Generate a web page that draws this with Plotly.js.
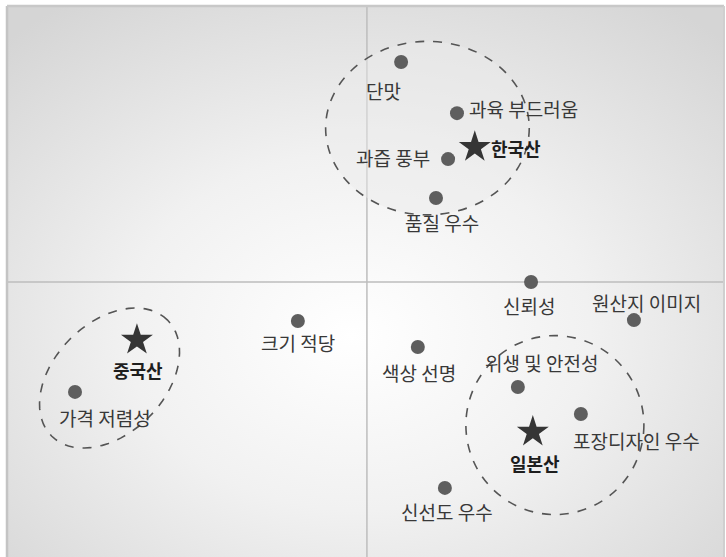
<!DOCTYPE html>
<html>
<head>
<meta charset="utf-8">
<script src="https://cdn.plot.ly/plotly-3.0.1.min.js"></script>
<style>html,body{margin:0;padding:0;background:#fff;}#chart{width:726px;height:557px;}</style>
</head>
<body>
<div id="chart"></div>
<script>
// Attributes (dots)
const attrNames = ["단맛","과육 부드러움","과즙 풍부","품질 우수","신뢰성","원산지 이미지","크기 적당","가격 저렴성","색상 선명","위생 및 안전성","포장디자인 우수","신선도 우수"];
const attrX = [0.096, 0.253, 0.228, 0.194, 0.461, 0.750, -0.194, -0.820, 0.143, 0.424, 0.601, 0.219];
const attrY = [0.809, 0.621, 0.452, 0.309, 0.000, -0.140, -0.143, -0.404, -0.239, -0.386, -0.485, -0.757];

// Origins (stars)
const originNames = ["한국산","중국산","일본산"];
const originX = [0.303, -0.646, 0.466];
const originY = [0.496, -0.213, -0.551];

// label placement (style): [xshift, yshift, xanchor]
const attrLabelPos = [[-18,-28,"center"],[10,5,"left"],[-16,2,"right"],[6,-24,"center"],[-2,-23,"center"],[13,18,"center"],[0,-22,"center"],[30,-26,"center"],[1,-25,"center"],[24,25,"center"],[56,-27,"center"],[2,-24,"center"]];
const originLabelPos = [[14,-1,"left"],[1,-30,"center"],[2,-31,"center"]];

const PX = 356, PY = 272; // pixels per unit
const xr = [-1.011, 1.003], yr = [-1.011, 1.015];

const font = "'Noto Sans CJK KR', 'Noto Sans', sans-serif";
const annotations = [];
attrNames.forEach((n,i)=>{
  annotations.push({x:attrX[i], y:attrY[i], text:n, showarrow:false, xshift:attrLabelPos[i][0], yshift:attrLabelPos[i][1], xanchor:attrLabelPos[i][2], yanchor:"middle", font:{family:font, size:19, color:"#383838"}});
});
originNames.forEach((n,i)=>{
  annotations.push({x:originX[i], y:originY[i], text:"<b>"+n+"</b>", showarrow:false, xshift:originLabelPos[i][0], yshift:originLabelPos[i][1], xanchor:originLabelPos[i][2], yanchor:"middle", font:{family:font, size:18, color:"#1e1e1e"}});
});

// tilted ellipse path (China group)
function tiltedEllipse(cx, cy, a, b, deg){
  const th = deg*Math.PI/180; let p = "";
  for(let k=0;k<=72;k++){
    const t = 2*Math.PI*k/72;
    const dx = a*Math.cos(t)*Math.cos(th) - b*Math.sin(t)*Math.sin(th);
    const dy = a*Math.cos(t)*Math.sin(th) + b*Math.sin(t)*Math.cos(th);
    p += (k===0?"M":"L") + (cx + dx/PX).toFixed(4) + "," + (cy + dy/PY).toFixed(4);
  }
  return p + "Z";
}
const dashLine = {color:"#555555", width:1.6, dash:"dash"};

const shapes = [
  {type:"line", xref:"x", yref:"paper", x0:0, x1:0, y0:0, y1:1, line:{color:"#bdbdbd", width:1.5}, layer:"below"},
  {type:"line", xref:"paper", yref:"y", x0:0, x1:1, y0:0, y1:0, line:{color:"#bdbdbd", width:1.5}, layer:"below"},
  {type:"line", xref:"paper", yref:"paper", x0:0, x1:0, y0:0, y1:1, line:{color:"#c4c4c4", width:2.5}},
  {type:"line", xref:"paper", yref:"paper", x0:0, x1:1, y0:1, y1:1, line:{color:"#c8c8c8", width:2.5}},
  {type:"line", xref:"paper", yref:"paper", x0:1, x1:1, y0:0, y1:1, line:{color:"#cfcfcf", width:2}},
  {type:"circle", xref:"x", yref:"y", x0:0.170-0.286, x1:0.170+0.286, y0:0.566-0.319, y1:0.566+0.319, line:dashLine, fillcolor:"rgba(235,235,235,0.45)", layer:"below"},
  {type:"circle", xref:"x", yref:"y", x0:0.528-0.250, x1:0.528+0.250, y0:-0.526-0.329, y1:-0.526+0.329, line:dashLine, layer:"below"},
  {type:"path", xref:"x", yref:"y", path:tiltedEllipse(-0.723,-0.353,82,55.5,45), line:dashLine, layer:"below"}
];

const svg = "<svg xmlns='http://www.w3.org/2000/svg' width='717' height='551' viewBox='0 0 717 551' preserveAspectRatio='none'>"+
 "<defs><radialGradient id='g' cx='50%' cy='58%' r='72%' fx='48%' fy='60%'>"+
 "<stop offset='0' stop-color='#ffffff'/><stop offset='0.45' stop-color='#f1f1f1'/><stop offset='1' stop-color='#d5d5d5'/></radialGradient></defs>"+
 "<rect width='717' height='551' fill='url(#g)'/></svg>";
const bg = "data:image/svg+xml;charset=utf-8," + encodeURIComponent(svg);

const traces = [
  {type:"scatter", mode:"markers", x:attrX, y:attrY, text:attrNames, hoverinfo:"text",
   marker:{size:14, color:"#5e5e5e", line:{width:0}}},
  {type:"scatter", mode:"markers", x:originX, y:originY, text:originNames, hoverinfo:"text",
   marker:{symbol:"star", size:24, color:"#353535", line:{width:0}}}
];

const layout = {
  width:726, height:557,
  margin:{l:7, r:2, t:6, b:0, pad:0},
  paper_bgcolor:"#ffffff", plot_bgcolor:"rgba(0,0,0,0)",
  showlegend:false,
  xaxis:{range:xr, showgrid:false, zeroline:false, showticklabels:false, ticks:"", showline:false, fixedrange:true},
  yaxis:{range:yr, showgrid:false, zeroline:false, showticklabels:false, ticks:"", showline:false, fixedrange:true},
  images:[{source:bg, xref:"paper", yref:"paper", x:0, y:1, sizex:1, sizey:1, sizing:"stretch", xanchor:"left", yanchor:"top", layer:"below"}],
  shapes:shapes,
  annotations:annotations
};
Plotly.newPlot("chart", traces, layout, {displayModeBar:false, staticPlot:true});
</script>
</body>
</html>
